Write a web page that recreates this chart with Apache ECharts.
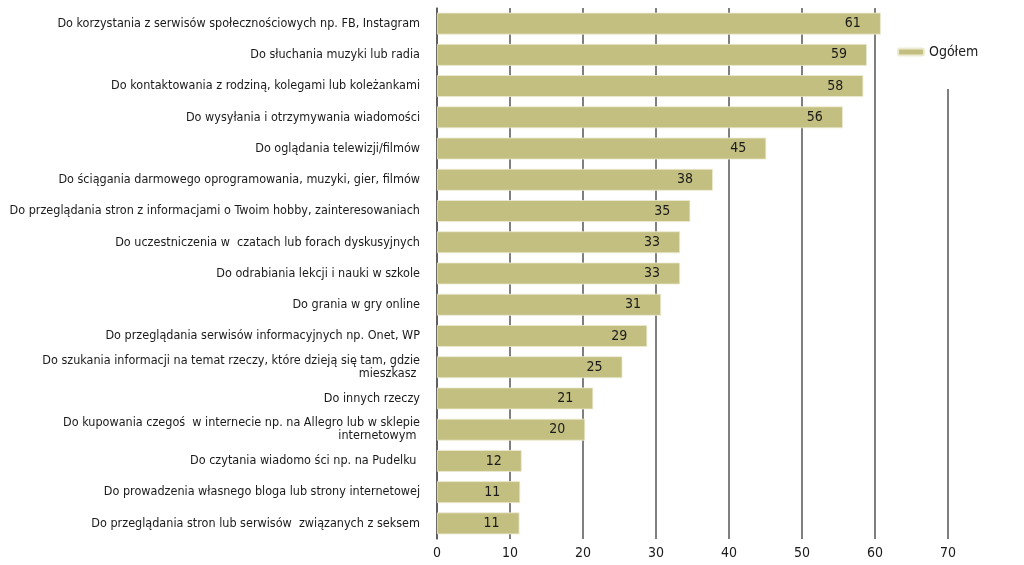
<!DOCTYPE html>
<html>
<head>
<meta charset="utf-8">
<script src="https://cdn.jsdelivr.net/npm/echarts@6/dist/echarts.min.js"></script>
<style>
html,body{margin:0;padding:0;background:#fff;}
#c{width:1024px;height:565px;}
</style>
</head>
<body>
<div id="c"></div>
<script>
var categories = [
  "Do korzystania z serwisów społecznościowych np. FB, Instagram",
  "Do słuchania muzyki lub radia",
  "Do kontaktowania z rodziną, kolegami lub koleżankami",
  "Do wysyłania i otrzymywania wiadomości",
  "Do oglądania telewizji/filmów",
  "Do ściągania darmowego oprogramowania, muzyki, gier, filmów",
  "Do przeglądania stron z informacjami o Twoim hobby, zainteresowaniach",
  "Do uczestniczenia w  czatach lub forach dyskusyjnych",
  "Do odrabiania lekcji i nauki w szkole",
  "Do grania w gry online",
  "Do przeglądania serwisów informacyjnych np. Onet, WP",
  "Do szukania informacji na temat rzeczy, które dzieją się tam, gdzie\nmieszkasz ",
  "Do innych rzeczy",
  "Do kupowania czegoś  w internecie np. na Allegro lub w sklepie\ninternetowym ",
  "Do czytania wiadomo ści np. na Pudelku ",
  "Do prowadzenia własnego bloga lub strony internetowej",
  "Do przeglądania stron lub serwisów  związanych z seksem"
];
var seriesName = "Ogółem";
var values = [60.8, 58.9, 58.4, 55.6, 45.1, 37.8, 34.7, 33.3, 33.3, 30.7, 28.8, 25.4, 21.4, 20.3, 11.6, 11.4, 11.3];
var xTicks = [0, 10, 20, 30, 40, 50, 60, 70];

var FONT = "'DejaVu Sans Condensed', 'Liberation Sans Narrow', 'Roboto', sans-serif";
var chart = echarts.init(document.getElementById('c'), null, {renderer: 'canvas'});
chart.setOption({
  animation: false,
  backgroundColor: '#ffffff',
  textStyle: {fontFamily: FONT},
  legend: {
    data: [seriesName],
    left: 887,
    top: 2,
    orient: 'vertical',
    backgroundColor: '#ffffff',
    padding: [43, 12, 30, 10],
    itemWidth: 26,
    itemHeight: 7,
    itemGap: 6,
    textStyle: {fontFamily: FONT, fontSize: 14, color: '#1a1a1a'}
  },
  grid: {left: 437, right: 76, top: 8, bottom: 26, outerBoundsMode: 'none', containLabel: false},
  xAxis: {
    type: 'value',
    min: xTicks[0],
    max: xTicks[xTicks.length - 1],
    interval: 10,
    axisLine: {show: false},
    axisTick: {show: false},
    splitLine: {show: true, lineStyle: {color: '#555555', width: 1.5}},
    axisLabel: {fontFamily: FONT, fontSize: 14, color: '#1a1a1a', margin: 7}
  },
  yAxis: {
    type: 'category',
    inverse: true,
    data: categories,
    axisLine: {show: true, lineStyle: {color: '#555555', width: 1.5}},
    axisTick: {show: false},
    axisLabel: {fontFamily: FONT, fontSize: 12.5, color: '#1a1a1a', margin: 17, lineHeight: 13, align: 'right'}
  },
  series: [{
    name: seriesName,
    type: 'bar',
    data: values,
    barCategoryGap: '30%',
    itemStyle: {color: '#c3bf80', borderColor: '#ecebd2', borderWidth: 0.8},
    label: {
      show: true,
      position: 'insideRight',
      distance: 20,
      fontFamily: FONT,
      fontSize: 14,
      color: '#1a1a1a',
      formatter: function (p) { return Math.round(p.value); }
    }
  }]
});
</script>
</body>
</html>
